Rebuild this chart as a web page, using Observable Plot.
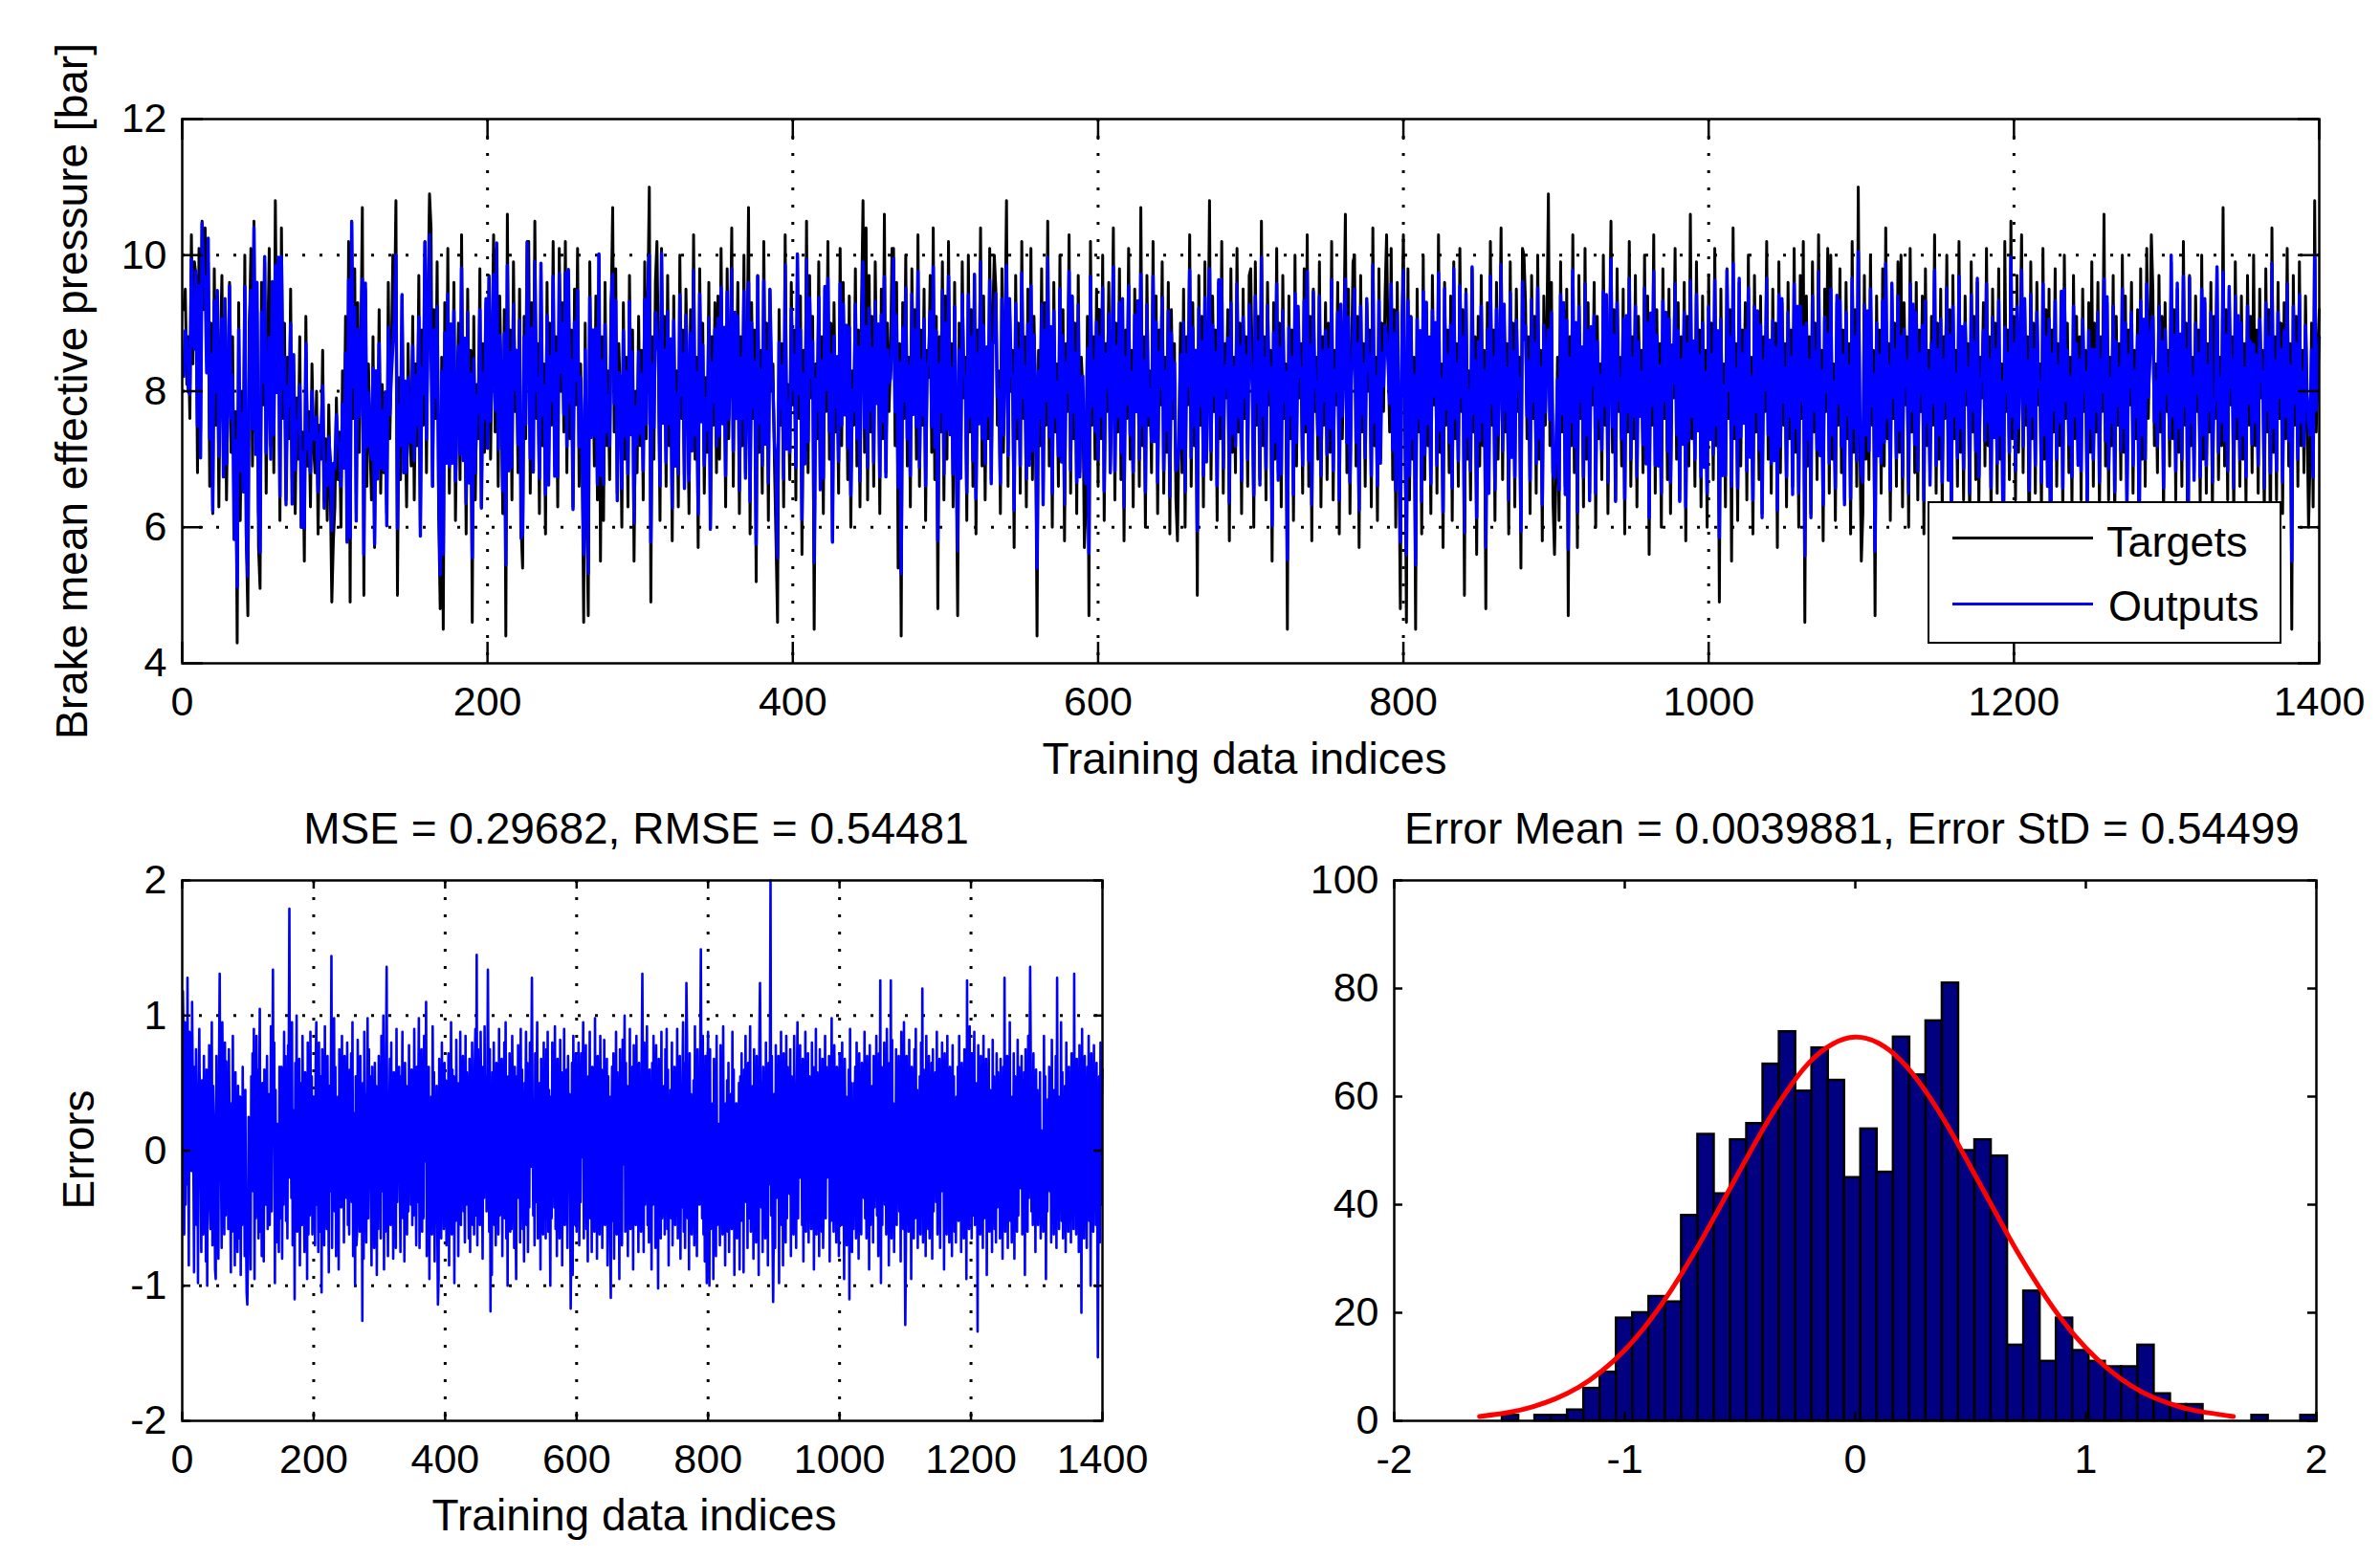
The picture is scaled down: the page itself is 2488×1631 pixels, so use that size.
<!DOCTYPE html>
<html><head><meta charset="utf-8">
<script src="https://cdn.jsdelivr.net/npm/d3@7"></script>
<script src="https://cdn.jsdelivr.net/npm/@observablehq/plot@0.6"></script>
<style>
html,body{margin:0;padding:0;background:#fff;}
#wrap{position:relative;width:2488px;height:1631px;background:#fff;font-family:"Liberation Sans",Arial,Helvetica,sans-serif;color:#000;overflow:hidden;}
.pane{position:absolute;}
.lbl{position:absolute;font-size:46px;white-space:nowrap;line-height:1;transform:translate(-50%,-50%);}
.rot{transform:translate(-50%,-50%) rotate(-90deg);}
</style></head><body><div id="wrap"></div>
<script>
// Targets, in tenths of bar (index 1..1400)
const targetsTenths = [
92,95,81,88,76,103,84,99,97,68,101,74,105,92,104,87,99,66,90,62,98,75,94,63,86,97,70,91,64,83,96,71,88,59,77,43,93,61,80,66,100,58,47,89,101,69,105,74,92,57,
51,96,78,99,65,87,101,72,93,68,108,83,97,61,104,76,90,64,85,73,95,67,82,62,79,70,88,60,74,55,91,69,77,63,84,72,68,80,59,75,70,86,64,73,61,78,66,49,58,63,
79,67,74,60,83,69,91,58,102,49,105,76,98,62,93,71,86,107,50,95,66,84,73,64,88,57,79,70,92,65,81,68,75,62,96,73,85,100,90,108,50,82,67,94,71,77,63,87,74,69,
91,64,84,72,97,60,89,75,102,68,94,109,104,66,92,76,99,62,48,85,45,93,70,101,65,88,74,96,61,79,90,67,103,72,84,59,95,69,86,46,91,64,81,73,98,63,87,71,93,76,
97,70,88,103,74,101,66,94,80,62,92,44,106,71,89,64,99,77,86,68,95,60,54,91,73,102,102,65,93,70,105,76,87,62,98,72,84,59,96,67,90,75,102,69,88,63,101,80,93,74,
102,68,97,73,89,63,95,78,101,66,84,71,46,90,62,47,99,75,86,69,94,64,100,55,88,61,96,72,83,67,92,107,74,98,65,87,79,60,93,70,85,63,97,76,89,55,80,68,91,72,
86,64,99,73,93,110,49,88,70,96,102,84,61,101,78,91,66,97,72,87,58,94,69,83,63,100,76,89,67,95,80,62,92,74,103,70,85,57,98,77,90,65,82,71,96,60,88,75,93,68,
94,70,101,77,87,63,98,73,85,104,66,91,79,96,62,88,72,100,68,83,107,59,93,76,89,52,97,71,86,65,102,74,90,61,95,80,84,69,58,46,92,75,87,63,103,72,81,67,96,78,
89,64,100,76,94,56,86,71,105,68,97,79,91,45,84,73,99,66,88,62,95,77,102,70,90,58,93,74,85,65,101,72,96,79,87,67,94,60,83,75,98,69,89,63,92,108,71,104,64,97,
74,91,66,99,80,88,62,95,73,106,68,90,77,84,101,101,72,96,54,87,44,93,76,100,69,85,63,98,78,92,70,103,66,89,75,95,61,86,82,97,71,104,67,91,48,88,74,99,64,94,
70,102,76,87,63,96,72,47,90,68,99,79,85,61,100,74,92,66,97,59,89,77,104,69,94,64,86,73,101,67,91,100,95,75,83,62,98,71,88,108,66,93,80,86,57,97,73,90,65,102,
76,88,63,95,70,101,67,91,78,44,86,72,98,64,93,75,105,69,89,60,96,74,84,66,100,71,92,58,87,77,103,65,94,73,90,62,97,68,85,80,57,63,91,47,102,75,88,70,95,66,
92,73,100,61,87,77,96,69,84,104,64,90,74,98,67,93,58,89,76,101,70,86,63,95,79,91,66,107,72,88,60,97,75,83,68,102,73,94,62,89,78,99,65,85,71,96,59,92,76,87,
64,58,74,90,68,95,60,88,78,103,66,93,72,86,50,97,75,91,63,99,70,84,108,67,94,77,89,61,96,73,102,65,87,79,92,58,98,71,85,68,101,74,90,62,95,76,88,66,97,98,
83,60,99,75,91,67,105,72,88,64,96,78,86,55,93,70,101,68,90,63,97,76,84,45,94,73,89,61,100,69,92,79,87,65,98,74,103,66,91,58,95,77,85,70,99,63,88,75,93,67,
90,71,102,64,86,78,96,59,92,73,88,106,68,95,62,84,99,100,69,91,57,97,74,87,66,93,80,89,63,104,72,85,61,98,70,90,77,94,103,86,74,101,67,92,60,96,73,48,89,103,
76,46,98,64,91,70,85,45,95,74,88,59,100,67,93,72,86,62,97,78,90,65,103,71,84,57,96,75,89,68,94,61,99,73,87,66,101,77,92,50,95,70,83,64,98,74,88,56,91,69,
97,72,86,48,93,66,102,75,89,61,96,70,84,104,67,92,74,87,59,99,71,90,63,95,77,85,54,101,100,93,73,88,62,97,76,91,65,100,70,86,58,94,75,89,109,72,96,64,56,68,
85,61,99,74,92,66,95,47,88,72,103,68,90,57,97,76,86,63,101,70,93,65,89,78,96,60,91,73,84,67,100,75,94,62,87,105,71,92,64,98,77,85,69,95,59,90,74,102,66,88,
73,97,63,91,78,86,68,100,71,94,56,89,75,103,65,92,72,87,60,98,76,90,67,95,62,84,79,101,70,93,64,88,74,96,58,91,69,106,73,85,66,99,77,89,63,94,71,86,60,97,
75,90,67,101,72,88,49,95,70,84,63,98,76,92,55,104,73,87,61,96,69,89,78,93,64,100,71,85,59,97,74,91,67,94,62,88,77,102,70,86,65,95,72,90,57,99,68,93,75,87,
63,96,73,89,66,101,71,92,60,97,76,102,46,94,69,88,62,99,74,90,67,103,72,86,58,95,77,101,65,100,70,84,61,93,75,98,68,89,64,96,73,87,59,102,71,92,66,110,74,55,
62,97,70,91,67,100,75,86,47,94,72,89,65,98,69,104,73,87,61,95,76,90,66,99,71,100,63,93,78,88,60,101,74,92,68,96,64,89,77,94,59,98,72,86,67,91,75,103,65,90,
70,95,62,88,76,100,68,92,57,97,73,86,66,102,71,89,64,94,78,87,60,99,74,91,67,96,63,85,79,93,69,101,72,88,61,95,75,90,65,98,70,84,46,102,77,89,67,105,73,91,
64,97,71,86,103,68,93,75,88,52,99,73,90,65,96,78,84,62,101,70,92,67,95,48,89,74,98,66,87,72,94,61,100,76,90,68,85,63,97,73,91,70,88,64,95,77,86,59,93,71,
99,66,90,74,96,62,88,77,106,69,93,64,85,72,97,60,91,75,87,67,100,71,94,63,89,78,96,65,86,73,92,49,98,70,90,66,101,76,88,103,95,72,84,68,97,74,91,61,93,77,
86,69,99,73,92,64,95,71,88,66,102,75,90,47,97,72,85,68,94,77,89,63,100,70,93,65,87,74,96,62,91,76,98,67,85,72,107,69,92,64,95,78,88,61,99,73,90,66,94,70,
87,63,97,75,91,68,100,72,89,65,95,79,86,61,98,74,92,56,104,71,88,64,96,76,90,62,93,73,101,69,87,45,97,75,91,66,99,72,86,68,94,77,60,70,90,63,108,74,85,92
];
// Gap between target and output (hundredths of bar)
const outputGapHundredths = [
98,61,-65,81,-36,36,-33,128,-7,-69,55,38,3,-35,72,43,-35,-70,46,-4,47,-49,-8,-74,38,63,26,-26,-53,46,5,-50,56,8,43,-82,39,-73,33,8,46,-8,-58,-10,62,-55,9,33,-40,-55,
-53,44,-33,-8,-59,53,131,20,-31,-56,95,32,-27,-35,42,-44,50,7,43,-49,51,36,-34,-64,35,-46,71,0,30,-49,40,-25,33,-51,40,-10,-49,38,-62,21,-41,52,12,37,-51,47,-40,-105,-114,-56,
25,-52,18,-60,49,3,54,2,56,-95,1,-46,57,11,39,-53,20,105,-60,-9,-58,42,4,-60,46,-5,-40,29,50,-37,39,-4,-49,18,66,-36,26,134,-6,80,-98,41,-50,-2,30,-45,-51,50,13,-35,
44,-58,17,-30,61,13,55,-46,1,-49,56,60,179,0,30,-31,65,-44,-50,21,-110,44,6,67,-39,-19,46,42,-58,22,34,-37,49,22,-38,-45,34,25,35,-95,62,-40,17,-39,60,2,43,-50,-6,44,
3,-56,51,59,-32,-8,-55,58,-24,-34,35,-105,75,27,33,-48,62,-32,0,-42,46,16,-52,30,-21,1,144,-51,37,19,59,-41,50,-52,-8,-45,32,-58,49,8,49,-36,51,15,24,-44,37,-27,31,-27,
46,-39,-9,-53,45,4,48,-36,62,-58,20,7,-100,39,-44,-62,52,18,-30,-45,48,-23,-2,-126,36,-53,62,-20,36,-50,-8,98,-42,47,11,43,-30,-57,41,-34,21,-48,38,24,33,-56,23,-42,52,-18,
35,-43,55,-21,-6,100,-88,41,-46,44,136,-18,-51,7,27,50,-35,53,-32,-7,-48,36,0,34,-48,58,-34,35,13,38,-30,-49,35,28,52,-36,23,-49,37,15,32,-41,31,-33,52,3,38,-34,39,-39,
33,-34,57,18,-24,-46,34,-29,31,60,-52,-6,30,49,-34,31,-40,53,8,22,110,-48,29,-16,47,-55,1,-43,30,-41,58,18,42,-55,1,-37,40,-35,-114,-95,48,-24,33,-41,44,5,27,-40,39,-23,
37,-48,-2,-36,50,-51,35,17,56,-46,33,-30,37,-98,22,-43,52,5,36,-52,-4,-32,54,-41,46,2,49,-37,-1,-47,52,-30,32,25,-27,-47,46,-47,29,-22,52,-40,25,-38,45,90,-36,145,-48,48,
-32,47,-35,58,18,-19,-54,38,-26,92,6,39,-42,22,134,15,-50,49,-119,28,-92,37,-26,48,-40,13,-46,37,14,30,-48,54,-28,45,-16,44,-51,25,-24,53,-38,57,-47,22,-100,41,-30,42,-38,40,
-44,51,24,36,-48,36,-30,-95,39,8,48,-35,31,-41,58,-22,40,-38,-2,-52,35,18,50,-40,43,-53,-5,-33,47,6,40,128,6,-42,29,-44,44,-26,31,95,-45,-6,-27,40,-55,41,-31,39,-41,46,
-31,44,-41,51,9,55,-42,27,-26,-100,30,-40,52,7,41,-36,53,-43,-5,-50,42,-22,27,-45,50,14,38,-53,28,-29,54,-34,0,-39,44,-46,43,6,33,-22,-117,-34,47,-92,51,-29,36,-41,48,-40,
40,-33,48,-43,16,-35,46,10,32,57,-43,34,-22,50,-40,-6,-50,40,-21,55,-36,32,-51,38,20,-23,-40,98,-30,36,-52,43,-14,29,-46,51,4,38,-46,33,-28,52,-34,21,-33,42,-55,35,-28,28,
-43,-109,23,46,-36,48,-52,26,-28,52,-42,37,-30,0,-95,48,-29,37,-46,52,4,30,100,-42,43,-25,33,-51,-4,-36,56,-37,33,-15,42,-56,50,-28,16,-39,52,-22,34,-49,41,-31,28,-40,43,131,
24,-47,50,-34,37,8,53,-45,31,-46,34,-23,25,-52,44,-26,52,11,36,-48,51,-26,12,-102,46,-36,40,-38,56,-35,-5,-32,36,-41,47,-12,54,-38,42,-53,4,-35,36,-36,50,-46,21,-36,41,-37,
39,-36,56,-43,30,-20,44,-50,-8,-33,41,95,-44,41,-46,22,124,50,-35,40,-55,45,-27,30,-42,-6,-30,37,-46,54,-35,29,-51,47,6,44,-37,43,149,20,-42,52,-44,35,-54,44,-26,-98,33,52,
-31,-100,47,-36,2,-31,26,-95,44,-20,-9,-48,53,-37,-1,-32,-20,-44,51,-13,-1,-41,56,-33,22,-52,9,-24,37,-44,43,-48,10,-31,30,-38,55,-22,40,-92,6,-34,29,-43,-3,-27,36,-54,37,-37,
45,-35,30,-90,39,10,51,-32,40,-45,39,-36,20,54,-42,-8,-32,36,-50,45,7,42,-44,46,-29,31,-54,49,124,34,-33,36,-49,35,-26,40,-44,48,-31,25,-53,43,-19,40,200,-38,44,-40,-112,-39,
33,-45,48,-27,-10,12,46,-98,31,-35,52,-39,-1,-52,45,-26,-5,-44,52,-36,41,11,-5,-30,49,-50,37,-31,17,-44,53,-29,-2,-46,33,56,-38,38,2,50,-17,31,-40,44,-52,-11,-30,54,-40,31,
-33,45,-44,37,17,32,-42,48,17,40,-54,-25,-29,54,-41,38,30,33,-50,47,-26,-16,-42,44,-46,-28,-22,52,-36,41,2,34,18,44,-50,40,-37,98,-33,-24,-40,48,28,37,-44,40,22,32,-50,45,
21,46,-37,47,-30,-9,-95,44,24,32,-46,2,-41,40,-110,52,-21,38,-48,-6,-43,35,27,41,-43,48,7,29,-50,45,-30,-8,-44,43,6,36,-32,54,-36,-15,-44,46,22,36,-55,48,-39,-6,-34,36,
-44,44,-33,40,12,52,-36,-5,-50,45,-26,126,-98,40,-40,34,6,50,-32,42,-44,54,15,30,-53,41,-29,126,-44,50,-36,27,-48,-11,-32,47,-39,37,7,44,-36,33,-52,54,-36,40,-38,95,-30,-129,
-46,43,-36,-8,-42,50,-29,35,-95,40,15,37,-44,47,-35,52,-31,33,-45,-9,-31,39,-42,50,-33,120,-44,39,-26,36,-50,52,-32,-8,-42,44,-43,35,-27,43,-50,47,-35,30,8,40,-32,52,-41,39,
-36,44,-46,34,-26,48,11,38,-55,45,-33,35,-42,51,-36,-5,-46,40,-23,36,-50,48,-32,37,-42,-6,-44,31,-28,41,-37,52,-35,34,-48,41,18,39,-44,47,-36,27,-95,126,-27,35,-40,53,-33,40,
-43,45,-36,32,52,-39,-6,-32,36,-134,48,-33,39,-41,44,-26,27,-46,52,-36,40,10,44,-92,35,-32,47,-40,33,-35,-7,-48,50,-26,39,-42,29,-44,45,-33,40,9,34,-43,44,-29,32,-50,41,-36,
128,-40,39,-32,44,-46,34,-29,95,-37,-9,-46,31,-35,45,-52,37,-29,36,-42,50,-36,40,9,37,-26,44,-41,30,-33,38,-92,47,-36,-6,-40,52,-31,34,136,41,-35,27,-39,45,-32,37,-48,39,-27,
35,-40,-10,-33,38,-43,-9,-36,-4,-40,51,-29,39,-95,3,-35,29,11,40,-27,35,-44,50,-36,-6,-41,33,-32,44,-46,128,-31,-3,-40,31,-35,95,-37,38,-43,-4,-26,34,-48,50,-33,-11,-40,40,-36,
36,-44,45,-32,37,-42,131,-35,37,-41,44,-25,32,-48,50,-32,40,-120,52,-36,36,-43,44,-31,39,-46,41,-33,52,-37,33,-100,45,-32,40,-40,48,-35,32,-39,43,-27,-153,-36,39,-44,80,-32,29,40
];
// Errors (hundredths of bar)
const errorsHundredths = [
118,85,-62,95,-40,72,-25,128,20,-85,88,30,42,-15,110,55,-5,-90,62,-30,75,-55,14,-98,48,90,12,-8,-75,52,31,-62,70,-22,40,-82,60,-100,35,-12,78,-40,-58,5,95,-70,48,25,-20,-88,
-95,70,-35,22,-80,65,131,10,-10,-72,95,38,0,-62,80,-48,66,-15,52,-58,75,18,-30,-90,35,-60,85,-28,22,-85,58,-40,30,-75,48,-20,-65,40,-92,15,-55,62,-10,28,-78,45,-60,-105,-114,-80,
25,-70,10,-88,55,-12,72,-30,90,-95,40,-50,85,-15,60,-65,30,105,-60,15,-78,50,-5,-82,60,-38,-40,15,70,-58,42,-20,-55,-8,92,-45,35,134,10,80,-98,45,-68,20,18,-48,-75,62,5,-50,
62,-80,25,-40,88,-15,70,-52,35,-65,78,60,179,-20,50,-35,95,-70,-50,30,-110,65,-8,100,-60,-5,38,68,-85,22,50,-55,85,12,-30,-75,58,10,45,-95,80,-62,20,-48,88,-22,55,-62,15,40,
30,-70,65,95,-40,25,-75,80,-22,-60,55,-105,75,15,48,-70,92,-35,10,-58,70,-12,-90,48,-30,35,144,-72,58,5,98,-45,62,-78,20,-55,40,-88,75,-10,65,-42,85,0,38,-68,70,-25,52,-35,
80,-55,18,-62,60,-20,72,-38,95,-78,28,-5,-100,55,-70,-62,82,12,-20,-60,70,-45,30,-126,50,-80,88,-30,42,-68,12,98,-50,75,-10,55,-30,-85,62,-48,30,-72,65,20,48,-92,25,-58,70,-28,
45,-65,85,-30,15,100,-88,55,-60,70,136,-10,-78,40,25,68,-55,80,-42,5,-80,58,-15,40,-72,90,-38,50,-5,62,-28,-75,55,20,88,-50,32,-82,65,12,48,-62,35,-45,78,-25,52,-40,60,-55,
55,-48,90,15,-12,-70,62,-38,40,98,-72,12,30,75,-60,45,-50,85,-8,28,110,-78,50,-20,62,-95,28,-55,40,-62,92,10,58,-82,25,-35,48,-50,-114,-95,68,-30,45,-65,80,-5,30,-58,65,-25,
52,-70,30,-40,72,-85,45,5,95,-62,60,-30,55,-98,30,-52,82,-15,50,-78,20,-35,88,-55,62,-30,70,-45,8,-68,85,-40,58,25,-15,-65,68,-75,35,-28,80,-55,40,-62,65,90,-48,145,-70,75,
-40,65,-55,88,20,-5,-80,62,-35,92,-10,55,-45,30,134,48,-60,75,-119,40,-92,58,-30,80,-55,22,-70,65,12,50,-62,90,-48,60,-22,68,-78,35,-20,80,-50,95,-65,40,-100,55,-38,72,-60,62,
-58,85,20,48,-72,62,-40,-95,55,-8,78,-35,40,-68,90,-30,60,-58,25,-82,50,15,88,-55,65,-75,5,-42,80,-12,58,128,30,-48,35,-70,72,-38,45,95,-65,15,-25,50,-88,68,-40,55,-62,80,
-35,58,-65,75,-5,88,-60,45,-28,-100,40,-50,80,-15,62,-42,92,-58,10,-78,68,-30,35,-65,82,2,58,-85,40,-32,90,-55,22,-48,60,-72,70,-10,42,-20,-117,-58,65,-92,85,-35,50,-55,72,-60,
60,-42,80,-70,28,-38,72,-5,40,95,-65,50,-30,78,-58,15,-82,55,-25,88,-50,42,-75,62,20,-5,-60,98,-40,50,-80,70,-20,35,-62,85,-5,60,-72,48,-30,82,-55,30,-45,68,-85,55,-32,40,
-65,-109,15,62,-52,72,-80,40,-30,88,-62,58,-40,10,-95,75,-35,55,-70,82,-10,38,100,-60,65,-28,48,-78,22,-45,90,-58,45,-15,62,-88,78,-40,25,-55,85,-30,50,-75,65,-35,42,-60,70,131,
30,-75,80,-40,55,-10,92,-55,45,-68,60,-25,35,-88,65,-40,85,-5,52,-72,78,-30,20,-102,68,-45,55,-65,88,-50,15,-32,48,-62,75,-20,90,-58,60,-85,28,-38,45,-50,80,-70,35,-42,62,-55,
55,-48,90,-65,40,-22,70,-80,12,-42,55,95,-60,65,-72,30,124,82,-50,58,-88,72,-35,42,-62,15,-28,52,-70,92,-45,38,-78,75,-8,60,-40,65,149,30,-50,85,-62,55,-82,70,-35,-98,48,88,
-35,-100,75,-58,20,-45,35,-95,68,-28,5,-78,85,-55,20,-42,-10,-70,78,-15,15,-62,92,-45,30,-85,35,-30,52,-60,65,-75,40,-40,42,-58,88,-25,60,-92,30,-48,35,-65,25,-35,50,-88,55,-52,
72,-45,40,-90,60,-10,85,-38,55,-72,65,-50,28,92,-60,12,-40,48,-80,75,-5,58,-68,70,-32,40,-92,82,124,55,-42,50,-75,62,-30,58,-65,80,-45,35,-85,65,-25,55,200,-48,70,-62,-112,-55,
42,-72,78,-35,10,-8,70,-98,45,-45,88,-55,15,-85,72,-30,5,-68,85,-50,62,-10,10,-32,75,-78,55,-40,25,-62,85,-35,20,-72,45,95,-50,58,-20,78,-20,40,-55,68,-82,5,-38,88,-60,45,
-42,72,-68,55,15,42,-58,80,5,62,-88,-10,-35,90,-62,58,20,45,-78,75,-30,0,-60,68,-72,-20,-22,85,-50,62,-20,48,10,70,-82,58,-52,98,-42,-15,-60,78,25,52,-68,62,10,42,-78,72,
15,62,-55,80,-40,5,-95,68,10,40,-70,30,-45,60,-110,90,-30,50,-75,20,-58,50,25,62,-65,80,-5,38,-80,72,-38,10,-62,65,-20,50,-35,88,-50,-5,-65,70,12,52,-88,78,-55,15,-40,48,
-68,70,-42,55,-8,85,-48,15,-78,72,-30,126,-98,62,-55,48,-20,80,-40,58,-62,90,5,40,-85,65,-32,126,-65,82,-50,35,-75,10,-38,75,-55,52,-15,70,-45,45,-82,88,-48,60,-58,95,-38,-129,
-72,70,-50,10,-60,82,-35,45,-95,62,5,52,-65,75,-50,90,-40,45,-72,15,-35,55,-62,80,-45,120,-68,60,-28,50,-78,85,-40,12,-58,70,-65,50,-30,65,-80,75,-45,40,-10,58,-38,88,-62,55,
-50,68,-72,48,-30,80,-5,58,-88,72,-42,45,-62,85,-48,10,-68,62,-25,48,-78,78,-40,55,-60,20,-68,40,-28,62,-52,85,-45,48,-75,65,12,55,-65,75,-50,35,-95,126,-30,50,-58,92,-42,58,
-65,72,-48,42,88,-55,15,-38,50,-134,78,-42,55,-62,70,-28,35,-72,85,-50,60,-8,68,-92,50,-40,75,-60,45,-45,15,-75,82,-30,55,-58,38,-68,72,-42,58,-5,48,-65,68,-32,42,-80,62,-48,
128,-60,55,-40,70,-72,48,-32,95,-52,12,-68,40,-45,72,-80,55,-35,48,-60,82,-48,62,-15,52,-28,70,-62,40,-42,58,-92,75,-50,10,-60,85,-35,48,136,65,-45,35,-55,72,-40,55,-75,60,-30,
45,-55,20,-42,58,-65,15,-48,10,-60,85,-35,55,-95,30,-45,38,-5,62,-30,50,-68,82,-50,15,-62,45,-40,70,-72,128,-35,25,-58,40,-45,95,-52,58,-65,20,-28,48,-75,80,-42,5,-60,62,-50,
48,-68,72,-38,55,-58,131,-45,52,-62,68,-25,42,-75,78,-40,60,-120,90,-48,50,-65,70,-35,55,-72,62,-42,85,-52,45,-100,72,-38,58,-60,78,-45,42,-55,65,-30,-153,-50,55,-68,80,-40,38,60
];
// Histogram of errors: 50 bins between the min and max error
const histMin = -1.531, histMax = 2.003;
const histCounts = [1,0,1,1,2,6,9,19,20,23,22,38,53,42,52,55,66,72,61,69,63,45,54,46,71,64,74,81,50,52,49,14,24,11,19,13,11,10,10,14,5,3,3,0,0,0,1,0,0,1];
// Fitted normal curve (red)
const fitX = [-1.63,-1.5,-1.4,-1.3,-1.2,-1.1,-1.0,-0.9,-0.8,-0.7,-0.6,-0.5,-0.4,-0.3,-0.2,-0.1,0,0.1,0.2,0.3,0.4,0.5,0.6,0.7,0.8,0.9,1.0,1.1,1.2,1.3,1.4,1.5,1.64];
const fitY = [0.8,1.6,2.6,4.1,6.2,9.2,13.1,18.1,24.1,31.0,38.6,46.4,54.0,60.8,66.3,69.7,71.0,69.9,66.6,61.3,54.6,47.0,39.2,31.5,24.6,18.5,13.5,9.5,6.4,4.2,2.7,1.7,0.8];
// Ticks
const indexTicks = [0,200,400,600,800,1000,1200,1400];
const bmepTicks = [4,6,8,10,12];
const errTicks = [-2,-1,0,1,2];
const histXTicks = [-2,-1,0,1,2];
const histYTicks = [0,20,40,60,80,100];
const legendLabels = ["Targets","Outputs"];
const legendColors = ["#000000","#0000ff"];

const series = targetsTenths.map((t, k) => ({
  i: k + 1,
  target: t / 10,
  output: t / 10 - outputGapHundredths[k] / 100,
  error: errorsHundredths[k] / 100
}));
const binW = (histMax - histMin) / histCounts.length;
const bins = histCounts.map((c, k) => ({x1: histMin + k * binW, x2: histMin + (k + 1) * binW, count: c}));
const fit = fitX.map((x, k) => ({x, y: fitY[k]}));

const FONT = '"Liberation Sans", Arial, Helvetica, sans-serif';
function makePanel(o) {
  const fw = o.width - o.ml - o.mr, fh = o.height - o.mt - o.mb;
  const [xa, xb] = o.xDomain, [ya, yb] = o.yDomain;
  const lenY = o.tick * (yb - ya) / fh;
  const lenX = o.tick * (xb - xa) / fw;
  const tk = {stroke: "black", strokeWidth: 2.5};
  const dots = {stroke: "black", strokeWidth: 3, strokeDasharray: "3,15"};
  const fmt = d => String(d);
  return Plot.plot({
    width: o.width, height: o.height,
    marginLeft: o.ml, marginRight: o.mr, marginTop: o.mt, marginBottom: o.mb,
    x: {domain: o.xDomain, label: null},
    y: {domain: o.yDomain, label: null},
    style: {background: "none", fontFamily: FONT, fontSize: "43px", color: "black", overflow: "visible"},
    marks: [
      o.xGrid ? Plot.ruleX(o.xGrid, {x: d => d, ...dots}) : null,
      o.yGrid ? Plot.ruleY(o.yGrid, {y: d => d, ...dots}) : null,
      ...o.marks,
      Plot.frame({stroke: "black", strokeWidth: 2.5}),
      Plot.ruleX(o.xTicks, {x: d => d, y1: ya, y2: ya + lenY, ...tk}),
      Plot.ruleX(o.xTicks, {x: d => d, y1: yb, y2: yb - lenY, ...tk}),
      Plot.ruleY(o.yTicks, {y: d => d, x1: xa, x2: xa + lenX, ...tk}),
      Plot.ruleY(o.yTicks, {y: d => d, x1: xb, x2: xb - lenX, ...tk}),
      Plot.axisX(o.xTicks, {tickSize: 0, tickPadding: 24, tickFormat: fmt, label: null, fontSize: 43}),
      Plot.axisY(o.yTicks, {tickSize: 0, tickPadding: 16, tickFormat: fmt, label: null, fontSize: 43})
    ]
  });
}

const wrap = document.getElementById("wrap");
function place(el, left, top) {
  const d = document.createElement("div");
  d.className = "pane"; d.style.left = left + "px"; d.style.top = top + "px";
  d.appendChild(el); wrap.appendChild(d); return d;
}
function label(text, cx, cy, rot) {
  const d = document.createElement("div");
  d.className = "lbl" + (rot ? " rot" : "");
  d.style.left = cx + "px"; d.style.top = cy + "px";
  d.textContent = text; wrap.appendChild(d);
}

// Top: targets vs outputs
place(makePanel({
  width: 2488, height: 760, ml: 190, mr: 64, mt: 124, mb: 67,
  xDomain: [0, 1400], yDomain: [4, 12], tick: 22,
  xTicks: indexTicks, yTicks: bmepTicks,
  xGrid: indexTicks.slice(1, -1), yGrid: bmepTicks.slice(1, -1),
  marks: [
    Plot.line(series, {x: "i", y: "target", stroke: legendColors[0], strokeWidth: 3}),
    Plot.line(series, {x: "i", y: "output", stroke: legendColors[1], strokeWidth: 3.4})
  ]
}), 0, 0);

// Bottom left: errors
place(makePanel({
  width: 1240, height: 760, ml: 190, mr: 88, mt: 90, mb: 105,
  xDomain: [0, 1400], yDomain: [-2, 2], tick: 9,
  xTicks: indexTicks, yTicks: errTicks,
  xGrid: indexTicks.slice(1, -1), yGrid: errTicks.slice(1, -1),
  marks: [
    Plot.line(series, {x: "i", y: "error", stroke: "#0000ff", strokeWidth: 2.6})
  ]
}), 0, 830);

// Bottom right: histogram + fit
place(makePanel({
  width: 1248, height: 760, ml: 217, mr: 67, mt: 90, mb: 105,
  xDomain: [-2, 2], yDomain: [0, 100], tick: 9,
  xTicks: histXTicks, yTicks: histYTicks,
  marks: [
    Plot.rect(bins, {x1: "x1", x2: "x2", y1: 0, y2: "count", fill: "#000080", stroke: "black", strokeWidth: 2.5}),
    Plot.line(fit, {x: "x", y: "y", stroke: "#ff0000", strokeWidth: 5, curve: "natural"})
  ]
}), 1240, 830);

// Labels and titles
label("Brake mean effective pressure [bar]", 75, 409, true);
label("Training data indices", 1301, 793);
label("MSE = 0.29682, RMSE = 0.54481", 665, 866);
label("Errors", 82, 1202, true);
label("Training data indices", 663, 1584);
label("Error Mean = 0.0039881, Error StD = 0.54499", 1936, 866);

// Legend
const lg = document.createElement("div");
lg.style.cssText = "position:absolute;left:2015px;top:524px;width:370px;height:149px;box-sizing:border-box;border:2.5px solid #000;background:#fff;";
legendLabels.forEach((name, k) => {
  const ln = document.createElement("div");
  ln.style.cssText = `position:absolute;left:24px;top:${35 + k * 69}px;width:147px;height:3px;background:${legendColors[k]};`;
  lg.appendChild(ln);
  const tx = document.createElement("div");
  tx.style.cssText = `position:absolute;left:${185 + k * 2}px;top:${18 + k * 67}px;font-size:45px;line-height:1;white-space:nowrap;`;
  tx.textContent = name;
  lg.appendChild(tx);
});
wrap.appendChild(lg);
</script>
</body></html>
